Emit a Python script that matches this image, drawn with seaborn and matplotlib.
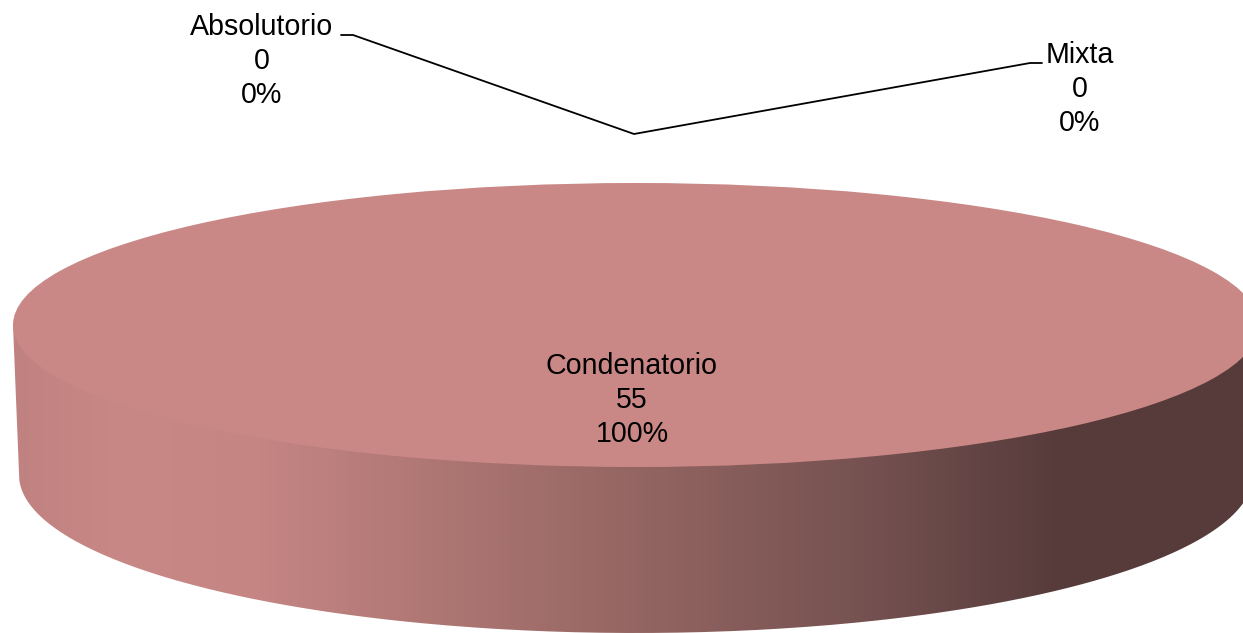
import numpy as np
import matplotlib
matplotlib.use("Agg")
import matplotlib.pyplot as plt
from matplotlib.colors import LinearSegmentedColormap
from matplotlib.patches import PathPatch
from matplotlib.path import Path
import seaborn as sns

categories = ["Absolutorio", "Condenatorio", "Mixta"]
values = [0, 55, 0]

sns.set_theme(style="white")
plt.rcParams["font.family"] = ["Liberation Sans", "DejaVu Sans"]

W, H = 1243, 633
fig = plt.figure(figsize=(W / 100, H / 100), dpi=100)

# background axes in pixels, for the side of the disc and the leader line
bg = fig.add_axes([0, 0, 1, 1])
bg.set_xlim(0, W)
bg.set_ylim(H, 0)
bg.axis("off")

# side wall, shaded left to right
shade = LinearSegmentedColormap.from_list("side", [
    (0.0, "#C08280"), (0.09, "#C88886"), (0.2, "#C48583"), (0.3, "#B57B78"),
    (0.5, "#956663"), (0.7, "#745150"), (0.85, "#573B3B"), (1.0, "#573B3B")])
grad = np.linspace(0, 1, 600).reshape(1, -1)
img = bg.imshow(grad, cmap=shade, extent=[13, 1243, H, 0], aspect="auto", zorder=1)
bg.set_xlim(0, W)
bg.set_ylim(H, 0)

t = np.linspace(np.pi, 0, 300)
arc_x = 636 + 617 * np.cos(t)
arc_y = 475 + 158 * np.sin(t)
side_pts = [(13, 325)] + list(zip(arc_x, arc_y)) + [(1259, 325)]
side = PathPatch(Path(side_pts), transform=bg.transData, facecolor="none", edgecolor="none")
bg.add_patch(side)
img.set_clip_path(side)

# leader lines from the empty slices
bg.plot([341, 353, 634, 1030, 1042], [35, 35, 134, 63, 63], color="black", lw=1.3, zorder=2)

# the pie itself, squashed into the top ellipse
pie_ax = fig.add_axes([13 / W, (H - 467) / H, (1259 - 13) / W, 284 / H])
pie_ax.pie(values, colors=["#C98886"] * len(values), radius=1,
           wedgeprops={"linewidth": 0}, startangle=90)
pie_ax.set_aspect("auto")
pie_ax.set_xlim(-1, 1)
pie_ax.set_ylim(-1, 1)
pie_ax.patch.set_alpha(0)

# label anchors in pixels
label_pos = [(262, 61), (632, 400), (1080, 89)]
total = sum(values)
for cat, val, (x, y) in zip(categories, values, label_pos):
    pct = round(val * 100 / total)
    fig.text(x, y, f"{cat}\n{val}\n{pct}%", transform=bg.transData, ha="center", va="center",
             fontsize=20.6, color="black", linespacing=1.27, zorder=5)

fig.savefig("out.png", dpi=100)
